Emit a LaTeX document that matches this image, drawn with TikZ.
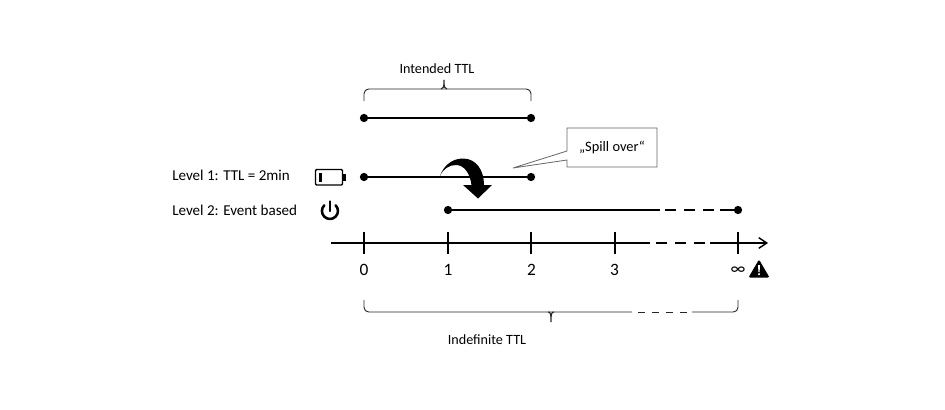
\documentclass[tikz,border=0pt]{standalone}
\usepackage{fontspec}
\setmainfont{Carlito}
\usetikzlibrary{arrows.meta}
\tikzset{
  dot/.style={circle,fill=black,inner sep=0pt,minimum size=6.2pt},
  seg/.style={line width=1.65pt,black},
  axisline/.style={line width=1.05pt,black},
  tick/.style={line width=1.05pt,black},
  bracel/.style={line width=0.7pt,black!85,rounded corners=3.5pt},
  lab/.style={inner sep=0pt,font=\fontsize{10.6pt}{12pt}\selectfont,text=black},
  levellab/.style={inner sep=0pt,font=\fontsize{11.3pt}{13pt}\selectfont,text=black},
  num/.style={inner sep=0pt,font=\fontsize{13pt}{15pt}\selectfont,text=black},
}
\begin{document}
\begin{tikzpicture}[x=0.75pt,y=-0.75pt]
\useasboundingbox (0,0) rectangle (945,410);
% Labels
\node[lab] (intended) at (437,69) {Intended TTL};
\node[lab] (indefinite) at (487,340) {Indefinite TTL};
\node[levellab,anchor=west] (l1) at (172,175) {Level 1: TTL = 2min};
\node[levellab,anchor=west] (l2) at (172,210) {Level 2: Event based};
% Top brace
\coordinate (tbL) at (364,101); \coordinate (tbR) at (531,101);
\coordinate (tbM) at (444,89); \coordinate (tbT) at (444,80);
\draw[bracel] (tbL) -- (364,89) -- (tbM) -- (tbR |- tbM) -- (tbR);
\draw[line width=0.8pt,black!85] (441,89) .. controls (443.5,89) and (444,87) .. (tbT) .. controls (444,87) and (444.5,89) .. (447,89);
% Bottom brace
\coordinate (bbL) at (364,300); \coordinate (bbR) at (738,300);
\coordinate (bbM) at (551,312); \coordinate (bbT) at (551,322);
\coordinate (bbA) at (632,312); \coordinate (bbB) at (692,312); \coordinate (bbC) at (638,312); \coordinate (bbD) at (688,312);
\draw[bracel] (bbL) -- (364,312) -- (bbA);
\draw[bracel] (bbB) -- (738,312) -- (bbR);
\draw[line width=0.7pt,black!85,dash pattern=on 5.6pt off 4.9pt] (bbC) -- (bbD);
\draw[line width=0.8pt,black!85] (548,312) .. controls (550.5,312) and (551,314) .. (bbT) .. controls (551,314) and (551.5,312) .. (554,312);
% Segments
\node[dot] (a1) at (364,118) {}; \node[dot] (a2) at (531,118) {};
\draw[seg] (a1) -- (a2);
\node[dot] (b1) at (364,177) {}; \node[dot] (b2) at (531,177) {};
\draw[seg] (b1) -- (b2);
\node[dot] (c1) at (448,210) {}; \node[dot] (c2) at (738,210) {};
\coordinate (cA) at (660,210); \coordinate (cC) at (665,210); \coordinate (cD) at (714,210); \coordinate (cB) at (720,210);
\draw[seg] (c1) -- (cA);
\draw[seg,dash pattern=on 8.25pt off 6pt] (cC) -- (cD);
\draw[seg] (cB) -- (c2);
% Axis
\coordinate (x0) at (331,243); \coordinate (xA) at (650,243); \coordinate (xB) at (710,243); \coordinate (x1) at (768,243);
\coordinate (xC) at (656,243); \coordinate (xD) at (705,243);
\draw[axisline] (x0) -- (xA);
\draw[axisline,dash pattern=on 8.25pt off 6pt] (xC) -- (xD);
\draw[axisline,-{Straight Barb[length=6pt,width=8pt]}] (xB) -- (x1);
\foreach \n/\x in {t0/364,t1/448,t2/531,t3/615,t4/738}{
  \coordinate (\n a) at (\x,232); \coordinate (\n b) at (\x,254);
  \draw[tick] (\n a) -- (\n b);
}
\node[num] (n0) at (364,270) {0};
\node[num] (n1) at (448,270) {1};
\node[num] (n2) at (531.5,270) {2};
\node[num] (n3) at (614.5,270) {3};
\node[num] (n4) at (738,271) {∞};
% Warning
\fill[black,rounded corners=1pt] (759,259.5) -- (769.5,277.5) -- (748.5,277.5) -- cycle;
\fill[white] (758,265) -- (760,265) -- (759.6,272) -- (758.4,272) -- cycle;
\fill[white] (759,274.2) circle (1.2);
% Battery
\draw[line width=1.1pt,black,rounded corners=0.8pt] (315.5,169.5) rectangle (342.5,185);
\fill[black] (343,173.5) rectangle (345.8,181);
\fill[black] (318.5,172.5) rectangle (321.5,182);
% Power icon
\draw[line width=1.9pt,black,line cap=round] (335.6,205.3) arc[start angle=45,delta angle=-270,radius=6pt];
\draw[line width=1.9pt,black,line cap=round] (330,201.5) -- (330,211);
% Curved arrow
\fill[black] (440,176) .. controls (443,167) and (451,158.5) .. (463,158.5)
  .. controls (476,158.5) and (484,170) .. (484,185)
  -- (492,185) -- (478,198.5) -- (463,185) -- (471.5,185)
  .. controls (470,173) and (464,165) .. (456,165)
  .. controls (449,165) and (443,169) .. cycle;
% Callout
\draw[black!60,line width=0.6pt,fill=white,line join=miter] (567,128) -- (657,128) -- (657,167) -- (567,167) -- (567,160) -- (513,168) -- (567,151) -- cycle;
\node[lab,font=\fontsize{10.8pt}{12pt}\selectfont] (spill) at (612,147) {„Spill over“};
\end{tikzpicture}
\end{document}
